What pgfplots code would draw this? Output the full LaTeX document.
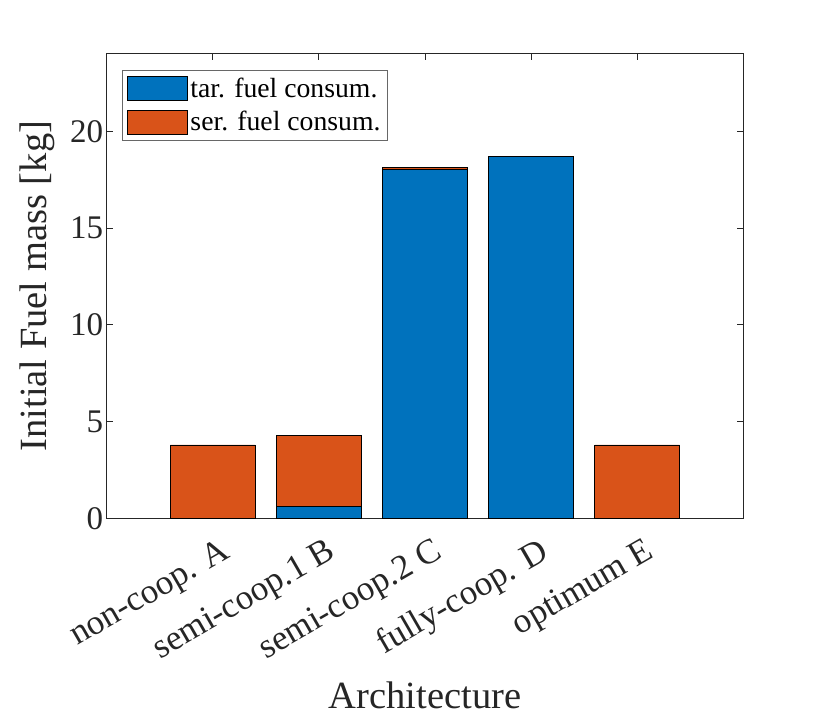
\documentclass[border=0pt]{standalone}
\usepackage{fontspec}
\setmainfont{Liberation Serif}
\usepackage{pgfplots}
\pgfplotsset{compat=1.18}
\definecolor{mblue}{HTML}{0072BD}
\definecolor{mred}{HTML}{D95319}
\definecolor{axgray}{HTML}{262626}
\begin{document}
\begin{tikzpicture}
\path[use as bounding box] (-106.7pt,-198.7pt) rectangle (715.3pt,518.3pt);
\begin{axis}[
  at={(0,0)}, anchor=south west,
  scale only axis,
  width=636.6pt, height=464.3pt,
  xmin=0, xmax=6, ymin=0, ymax=24,
  ybar stacked, bar width=0.8,
  xtick={1,2,3,4,5},
  xticklabels={non-coop. A, semi-coop.1 B, semi-coop.2 C, fully-coop. D, optimum E},
  ytick={0,5,10,15,20},
  tick align=inside,
  major tick length=6.5pt,
  every tick/.style={axgray, line width=0.8pt},
  axis line style={axgray, line width=1pt},
  /pgf/number format/assume math mode=true,
  tick label style={font=\fontsize{33}{40}\selectfont, color=axgray},
  xticklabel style={rotate=30, anchor=north east, font=\fontsize{35}{42}\selectfont, xshift=0pt, yshift=-16pt},
  xlabel={Architecture},
  ylabel={Initial Fuel mass [kg]},
  label style={font=\fontsize{38.5}{46}\selectfont, color=axgray},
  xlabel style={at={(axis description cs:0.5,-0.4095)}, anchor=base},
  ylabel style={at={(axis description cs:-0.0943,0.5)}, anchor=base},
  legend cell align=left,
  legend style={at={(axis description cs:0.0245,0.9655)}, anchor=north west,
    draw=axgray!70, line width=0.8pt, font=\fontsize{27.7}{32}\selectfont,
    inner xsep=4pt, inner ysep=5.5pt, row sep=8.5pt, nodes={inner xsep=3pt}},
  legend image code/.code={\draw[#1, draw=black, line width=0.8pt] (0pt,-12pt) rectangle (60pt,12pt);},
]
\addplot+[fill=mblue, draw=black, line width=0.8pt] coordinates {(1,0) (2,0.60) (3,18.04) (4,18.69) (5,0)};
\addplot+[fill=mred, draw=black, line width=0.8pt] coordinates {(1,3.79) (2,3.67) (3,0.10) (4,0) (5,3.79)};
\legend{tar. fuel consum., ser. fuel consum.}
\end{axis}
\end{tikzpicture}
\end{document}
